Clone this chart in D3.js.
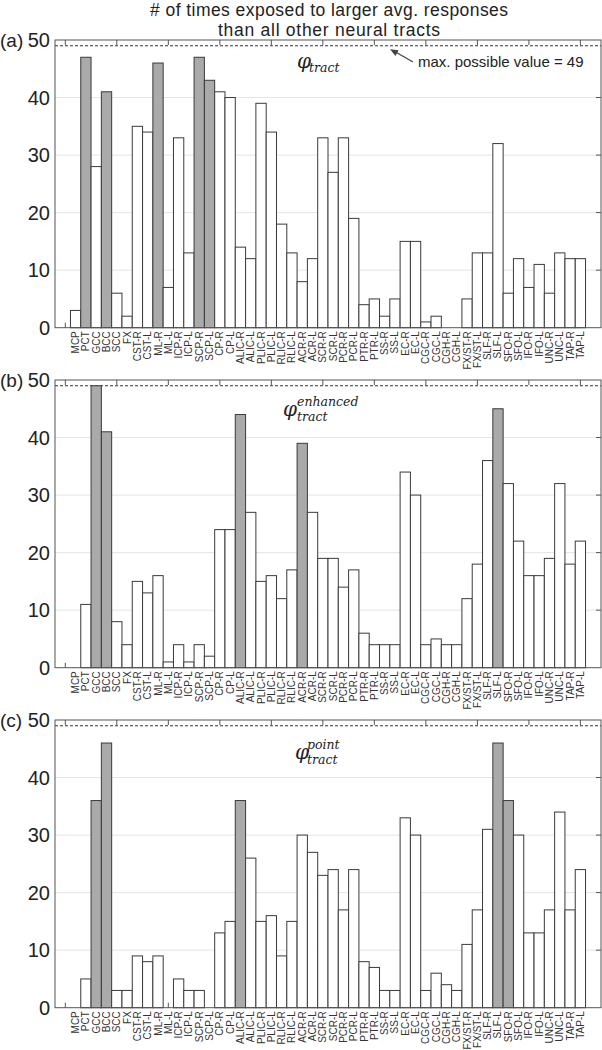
<!DOCTYPE html>
<html>
<head>
<meta charset="utf-8">
<script src="https://cdn.jsdelivr.net/npm/d3@7"></script>
<style>
  html, body { margin: 0; padding: 0; background: #fff; }
  svg { display: block; }
</style>
</head>
<body>
<svg id="chart" width="602" height="1050"></svg>
<script>
// ---------------- DATA ----------------
const categories = ["MCP","PCT","GCC","BCC","SCC","FX","CST-R","CST-L","ML-R","ML-L",
  "ICP-R","ICP-L","SCP-R","SCP-L","CP-R","CP-L","ALIC-R","ALIC-L","PLIC-R","PLIC-L",
  "RLIC-R","RLIC-L","ACR-R","ACR-L","SCR-R","SCR-L","PCR-R","PCR-L","PTR-R","PTR-L",
  "SS-R","SS-L","EC-R","EC-L","CGC-R","CGC-L","CGH-R","CGH-L","FX/ST-R","FX/ST-L",
  "SLF-R","SLF-L","SFO-R","SFO-L","IFO-R","IFO-L","UNC-R","UNC-L","TAP-R","TAP-L"];

const valuesTract = [3,47,28,41,6,2,35,34,46,7,
  33,13,47,43,41,40,14,12,39,34,
  18,13,8,12,33,27,33,19,4,5,
  2,5,15,15,1,2,0,0,5,13,
  13,32,6,12,7,11,6,13,12,12];

const valuesEnhanced = [0,11,49,41,8,4,15,13,16,1,
  4,1,4,2,24,24,44,27,15,16,
  12,17,39,27,19,19,14,17,6,4,
  4,4,34,30,4,5,4,4,12,18,
  36,45,32,22,16,16,19,32,18,22];

const valuesPoint = [0,5,36,46,3,3,9,8,9,0,
  5,3,3,0,13,15,36,26,15,16,
  9,15,30,27,23,24,17,24,8,7,
  3,3,33,30,3,6,4,3,11,17,
  31,46,36,30,13,13,17,34,17,24];

const highlightTract = ["PCT","BCC","ML-R","SCP-R","SCP-L"];
const highlightEnhanced = ["GCC","BCC","ALIC-R","ACR-R","SLF-L"];
const highlightPoint = ["GCC","BCC","ALIC-R","SLF-L","SFO-R"];

const panelLabels = ["(a)","(b)","(c)"];
const yTickValues = [0,10,20,30,40,50];
const gridValues = [10,20,30,40];
const xTickUnits = [0,5,10,15,20,25,30,35,40,45,50];
const maxPossible = 49;
const titleLines = ["# of times exposed to larger avg. responses","than all other neural tracts"];
const annotationText = "max. possible value = 49";

// ---------------- LAYOUT ----------------
const svg = d3.select("#chart");
const left = 55, right = 601;
const panelTops = [40, 380, 720];
const plotH = 287.7;

const x = d3.scaleLinear().domain([-1, 52]).range([left, right]);
const unitW = x(1) - x(0);

// title
const titleWidths = [358, 222];
svg.append("g").selectAll("text").data(titleLines).join("text")
  .attr("x", 329).attr("y", (d,i) => 16.2 + i*19.6)
  .attr("text-anchor","middle")
  .attr("font-family","Liberation Sans, Arial, sans-serif")
  .attr("font-size", 17.5).attr("fill","#222")
  .attr("textLength", (d,i) => titleWidths[i])
  .attr("lengthAdjust","spacing")
  .text(d => d);

const panels = [
  {values: valuesTract, hl: highlightTract, sup: null, phiX: 297, subX: 309, phiY: 68, subY: 72, supY: 0},
  {values: valuesEnhanced, hl: highlightEnhanced, sup: "enhanced", phiX: 283, subX: 297, phiY: 416, subY: 421, supY: 406},
  {values: valuesPoint, hl: highlightPoint, sup: "point", phiX: 295, subX: 307, phiY: 759, subY: 764, supY: 749}
];

panels.forEach((p, pi) => {
  const top = panelTops[pi];
  const bottom = top + plotH;
  const y = d3.scaleLinear().domain([0, 50]).range([bottom, top]);
  const g = svg.append("g");

  // gridlines
  g.selectAll("line.grid").data(gridValues).join("line")
    .attr("x1", left).attr("x2", right)
    .attr("y1", d => y(d)).attr("y2", d => y(d))
    .attr("stroke","#e4e4e4").attr("stroke-width",1);

  // dashed max line
  g.append("line")
    .attr("x1", left).attr("x2", right)
    .attr("y1", y(maxPossible)).attr("y2", y(maxPossible))
    .attr("stroke","#333").attr("stroke-width",1)
    .attr("stroke-dasharray","3,2");

  // bottom inward ticks (under bars)
  g.selectAll("line.bt").data(xTickUnits).join("line")
    .attr("x1", d => x(d)).attr("x2", d => x(d))
    .attr("y1", bottom).attr("y2", bottom - 5)
    .attr("stroke","#555").attr("stroke-width",1);

  // bars
  g.selectAll("rect.bar").data(categories.map((c,i) => ({c, v: p.values[i], i: i+1})))
    .join("rect")
    .attr("x", d => x(d.i - 0.5))
    .attr("y", d => y(d.v))
    .attr("width", unitW)
    .attr("height", d => y(0) - y(d.v))
    .attr("fill", d => p.hl.includes(d.c) ? "#aaaaaa" : "#ffffff")
    .attr("stroke","#3a3a3a").attr("stroke-width",1)
    .attr("stroke-opacity", d => d.v > 0 ? 1 : 0);

  // top inward ticks
  g.selectAll("line.tt").data(xTickUnits).join("line")
    .attr("x1", d => x(d)).attr("x2", d => x(d))
    .attr("y1", top).attr("y2", top + 5)
    .attr("stroke","#555").attr("stroke-width",1);

  // right inward ticks
  g.selectAll("line.rt").data(gridValues).join("line")
    .attr("x1", right).attr("x2", right - 5)
    .attr("y1", d => y(d)).attr("y2", d => y(d))
    .attr("stroke","#555").attr("stroke-width",1);

  // frame
  g.append("rect")
    .attr("x", left).attr("y", top)
    .attr("width", right - left).attr("height", plotH)
    .attr("fill","none").attr("stroke","#555").attr("stroke-width",1);

  // y tick labels
  g.selectAll("text.yt").data(yTickValues).join("text")
    .attr("x", 50).attr("y", d => y(d))
    .attr("dy","0.36em")
    .attr("text-anchor","end")
    .attr("font-family","Liberation Sans, Arial, sans-serif")
    .attr("font-size", 20).attr("fill","#222")
    .text(d => d);

  // panel label
  g.append("text")
    .attr("x", 0).attr("y", y(50)).attr("dy","0.36em")
    .attr("font-family","Liberation Sans, Arial, sans-serif")
    .attr("font-size", 19).attr("fill","#222")
    .text(panelLabels[pi]);

  // category labels
  g.selectAll("text.cat").data(categories).join("text")
    .attr("transform", (d,i) => `translate(${x(i+1)},${bottom + 3.5}) rotate(-90)`)
    .attr("text-anchor","end")
    .attr("dy","0.35em")
    .attr("font-family","Liberation Sans, Arial, sans-serif")
    .attr("font-size", 10).attr("fill","#333")
    .text(d => d);

  // phi label
  const lbl = g.append("g").attr("font-family","DejaVu Serif, serif").attr("font-style","italic").attr("fill","#222");
  lbl.append("text").attr("x", p.phiX).attr("y", p.phiY).attr("font-size", 20).text("φ");
  lbl.append("text").attr("x", p.subX).attr("y", p.subY).attr("font-size", 12.5).text("tract");
  if (p.sup) {
    lbl.append("text").attr("x", p.subX).attr("y", p.supY).attr("font-size", 12.5).text(p.sup);
  }

  if (pi === 0) {
    // annotation
    g.append("text")
      .attr("x", 418).attr("y", 67)
      .attr("font-family","Liberation Sans, Arial, sans-serif")
      .attr("font-size", 15).attr("fill","#222")
      .text(annotationText);
    const ax0 = 413, ay0 = 62, ax1 = 390, ay1 = y(maxPossible) + 3.5;
    g.append("line")
      .attr("x1", ax0).attr("y1", ay0).attr("x2", ax1 + 6).attr("y2", ay1 + 3)
      .attr("stroke","#444").attr("stroke-width",1.3);
    const ang = Math.atan2(ay1 - ay0, ax1 - ax0);
    const hl = 8, hw = 3.2;
    const bx = ax1 - hl*Math.cos(ang), by = ay1 - hl*Math.sin(ang);
    const px = -Math.sin(ang), py = Math.cos(ang);
    g.append("path")
      .attr("d", `M${ax1},${ay1} L${bx + hw*px},${by + hw*py} L${bx - hw*px},${by - hw*py} Z`)
      .attr("fill","#444");
  }
});
</script>
</body>
</html>
